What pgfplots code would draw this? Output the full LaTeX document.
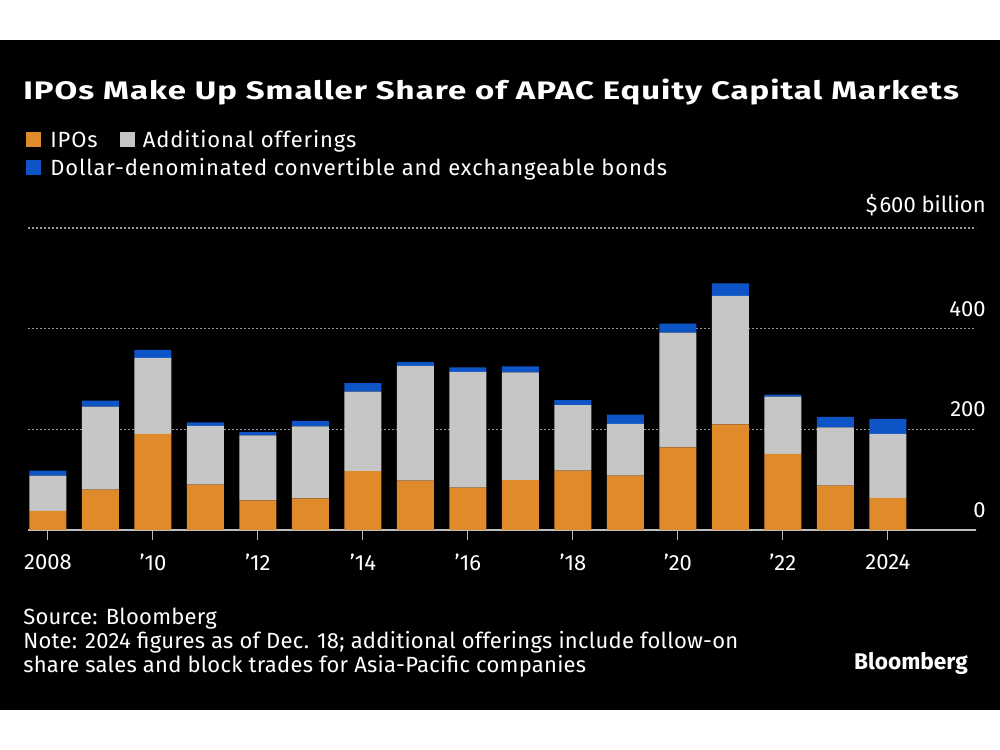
\documentclass[border=0pt]{standalone}
\usepackage{pgfplots}
\pgfplotsset{compat=1.18}
\usepackage{fontspec}
\setmainfont{Fira Sans}
\newfontfamily\titlefont[FakeStretch=1.3, LetterSpace=4]{Fira Sans}
\newfontfamily\legfont[LetterSpace=4]{Fira Sans}
\newfontfamily\footfont[LetterSpace=1.2]{Fira Sans}
\definecolor{ipo}{HTML}{E08B2B}
\definecolor{addl}{HTML}{C6C6C6}
\definecolor{bond}{HTML}{0D55C6}
\definecolor{axisgray}{HTML}{BDBDBD}
\begin{document}
\begin{tikzpicture}
% background
\fill[white] (0,0) rectangle (750pt,562.5pt);
\fill[black] (0,30pt) rectangle (750pt,532.5pt);
% title
\node[anchor=base west, inner sep=0, text=white, font=\titlefont\bfseries\fontsize{19}{23}\selectfont] at (17.25pt,488pt) {IPOs Make Up Smaller Share of APAC Equity Capital Markets};
% legend
\fill[ipo] (19.5pt,452pt) rectangle (30.75pt,463.25pt);
\node[anchor=base west, inner sep=0, text=white, font=\legfont\fontsize{16.5}{18}\selectfont] at (37.5pt,452pt) {IPOs};
\fill[addl] (90pt,452pt) rectangle (101.25pt,463.25pt);
\node[anchor=base west, inner sep=0, text=white, font=\legfont\fontsize{16.5}{18}\selectfont] at (107pt,452pt) {Additional offerings};
\fill[bond] (19.5pt,431pt) rectangle (30.75pt,442.25pt);
\node[anchor=base west, inner sep=0, text=white, font=\legfont\fontsize{16.5}{18}\selectfont] at (37.5pt,431pt) {Dollar-denominated convertible and exchangeable bonds};
% footer
\node[anchor=base west, inner sep=0, text=white, font=\footfont\fontsize{16.5}{18}\selectfont] at (17.25pt,93.75pt) {Source: Bloomberg};
\node[anchor=base west, inner sep=0, text=white, font=\footfont\fontsize{16.5}{18}\selectfont] at (17.25pt,75.75pt) {Note: 2024 figures as of Dec. 18; additional offerings include follow-on};
\node[anchor=base west, inner sep=0, text=white, font=\footfont\fontsize{16.5}{18}\selectfont] at (17.25pt,57.75pt) {share sales and block trades for Asia-Pacific companies};
\node[anchor=base east, inner sep=0, text=white, font=\bfseries\fontsize{17}{19}\selectfont] at (726pt,60pt) {Bloomberg};
\begin{axis}[
  at={(21pt,165pt)}, anchor=south west,
  scale only axis, width=711pt, height=226.5pt,
  xmin=2007.62, xmax=2025.68, ymin=0, ymax=600,
  ybar stacked, bar width=27.75pt,
  axis x line*=bottom, axis y line*=right,
  x axis line style={draw=axisgray, line width=1.1pt, -},
  y axis line style={draw=none},
  xtick={2008,2010,...,2024},
  xticklabels={2008,'10,'12,'14,'16,'18,'20,'22,2024},
  xtick style={draw=axisgray, line width=0.8pt},
  tick align=outside, major tick length=7.5pt,
  ytick={0,200,400,600},
  yticklabels={0,200,400,{\$\kern1.5pt600 billion}},
  ytick style={draw=none},
  ymajorgrids, grid style={draw=gray!80, dash pattern=on 1.2pt off 1.8pt, line width=0.8pt},
  yticklabel style={anchor=south east, inner sep=0pt, xshift=0pt, yshift=9pt, text=white},
  xticklabel style={text=white, inner sep=0pt, yshift=-10.5pt},
  tick label style={font=\fontsize{16.5}{18}\selectfont},
  /pgf/number format/assume math mode=true,
  clip=false,
]
\addplot[fill=ipo, draw=none] coordinates {
(2008,38) (2009,80) (2010,191) (2011,90) (2012,59) (2013,63) (2014,117) (2015,98) (2016,84)
(2017,99) (2018,118) (2019,108) (2020,164) (2021,210) (2022,151) (2023,88) (2024,64)};
\addplot[fill=addl, draw=none] coordinates {
(2008,70) (2009,165) (2010,151) (2011,117) (2012,129) (2013,143) (2014,158) (2015,228) (2016,230)
(2017,214) (2018,130) (2019,103) (2020,228) (2021,255) (2022,114) (2023,116) (2024,127)};
\addplot[fill=bond, draw=none] coordinates {
(2008,10) (2009,12) (2010,16) (2011,7) (2012,7) (2013,11) (2014,17) (2015,8) (2016,9)
(2017,12) (2018,10) (2019,18) (2020,18) (2021,25) (2022,4) (2023,21) (2024,30)};
\end{axis}
\end{tikzpicture}
\end{document}
